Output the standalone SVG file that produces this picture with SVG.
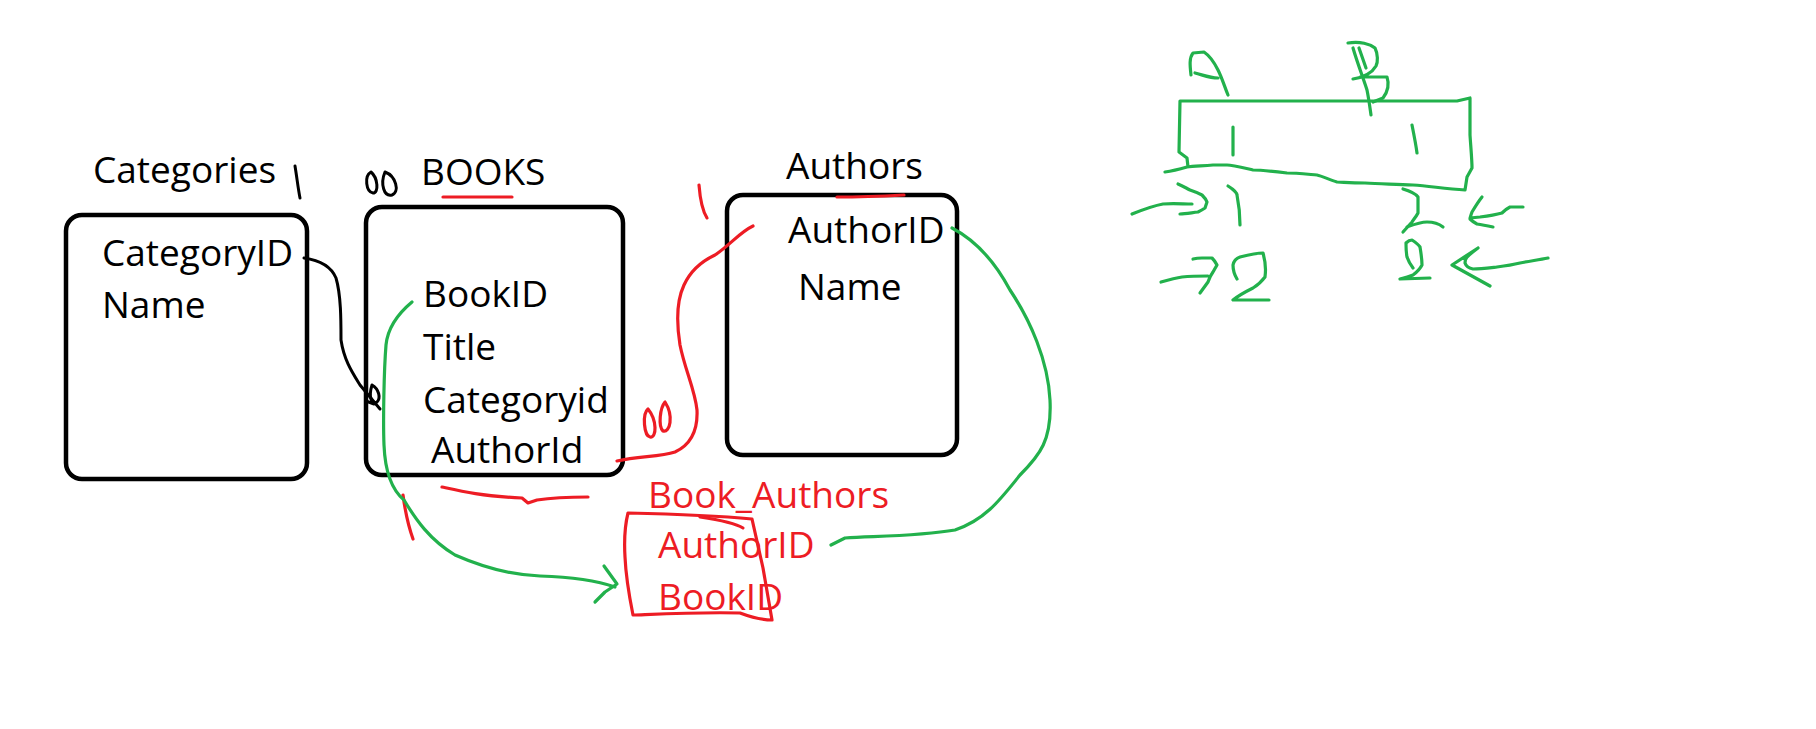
<svg xmlns="http://www.w3.org/2000/svg" width="1816" height="729" viewBox="0 0 1816 729">
<style>
.t{font-family:"Open Sans","Liberation Sans",sans-serif;font-size:37px;fill:#000}
.r{fill:#ED1C24}
.box{fill:none;stroke:#000;stroke-width:4.5}
.bk{fill:none;stroke:#000;stroke-width:3;stroke-linecap:round;stroke-linejoin:round}
.rd{fill:none;stroke:#ED1C24;stroke-width:3.2;stroke-linecap:round;stroke-linejoin:round}
.gr{fill:none;stroke:#22B14C;stroke-width:3.2;stroke-linecap:round;stroke-linejoin:round}
</style>
<rect width="1816" height="729" fill="#fff"/>
<g id="categories">
<rect class="box" x="66" y="215" width="241" height="264" rx="16"/>
<text class="t" x="93" y="183">Categories</text>
<text class="t" x="102" y="266">CategoryID</text>
<text class="t" x="102" y="318">Name</text>
<path class="bk" d="M295,166 C297,178 298,188 300,198"/>
</g>
<g id="books">
<rect class="box" x="366" y="207" width="257" height="268" rx="16"/>
<text class="t" x="421" y="185">BOOKS</text>
<path class="rd" d="M443,197 L512,197"/>
<path class="bk" d="M371,172 C364,176 366,192 373,193 C379,193 378,178 371,172 Z M385,172 C396,176 400,192 392,195 C384,197 380,184 385,172 Z"/>
<text class="t" x="423" y="307">BookID</text>
<text class="t" x="423" y="360">Title</text>
<text class="t" x="423" y="413">Categoryid</text>
<text class="t" x="431" y="463">AuthorId</text>
<path class="rd" d="M442,487 C460,491 480,496 522,498 L528,503 L537,500 C550,498 570,497 588,497"/>
<path class="rd" d="M403,495 C405,510 408,525 413,539"/>
</g>
<g id="authors">
<rect class="box" x="727" y="195" width="230" height="260" rx="16"/>
<text class="t" x="786" y="179">Authors</text>
<path class="rd" d="M837,197 C860,197 885,196 904,195"/>
<text class="t" x="788" y="243">AuthorID</text>
<text class="t" x="798" y="300">Name</text>
<path class="rd" d="M699,185 C700,198 702,210 707,218"/>
<path class="rd" d="M648,409 C642,414 644,436 650,437 C657,438 657,420 648,409 Z M665,402 C660,408 658,426 663,431 C670,433 674,416 665,402 Z"/>
</g>
<g id="book_authors">
<text class="t r" x="648" y="508">Book_Authors</text>
<text class="t r" x="658" y="558">AuthorID</text>
<text class="t r" x="658" y="610">BookID</text>
<path class="rd" d="M628,513 C670,514 720,516 752,519 L763,568 L772,620 C760,620 748,616 740,613 C700,612 660,614 633,615 C630,600 626,580 625,557 C624,540 625,525 628,513 Z"/>
<path class="rd" d="M700,517 C720,520 735,523 743,528"/>
</g>
<g id="connectors">
<path class="bk" d="M304,258 C318,260 331,266 336,278 C341,295 341,320 341,340 C344,360 352,372 360,385 L380,409"/>
<path class="bk" d="M372,385 C379,389 381,398 377,402 C372,405 368,398 372,385 Z M366,401 L374,404"/>
<path class="gr" d="M412,302 C400,312 388,325 386,345 C384,370 383,420 384,445 C385,470 392,490 404,500 C416,520 430,540 455,555 C480,566 510,575 540,576 C570,577 595,580 615,587"/>
<path class="gr" d="M604,566 L617,584 L605,592 L595,602"/>
<path class="rd" d="M617,461 C640,456 660,457 675,452 C690,445 698,432 697,410 C695,390 685,370 680,345 C676,320 677,300 684,285 C690,272 700,262 715,255 C730,245 740,232 753,226"/>
<path class="gr" d="M952,228 C975,240 995,262 1010,290 C1030,320 1048,360 1050,400 C1052,440 1040,455 1020,475 C1000,500 985,520 955,530 C920,536 880,536 845,538 L831,545"/>
</g>
<g id="ab-sketch">
<path class="gr" d="M1228,95 C1224,85 1222,78 1218,70 C1214,62 1210,56 1204,52 L1193,53 C1189,58 1190,66 1191,75 M1195,73 C1203,75 1210,78 1218,78"/>
<path class="gr" d="M1353,48 C1358,65 1364,80 1367,90 C1369,100 1370,108 1371,115 M1359,48 L1366,68 M1348,43 C1360,41 1370,44 1375,48 C1378,54 1378,62 1376,66 C1372,73 1365,77 1353,79 M1360,77 L1387,77 C1389,83 1389,90 1383,98 L1373,102"/>
<path class="gr" d="M1180,101 L1457,101 L1470,98 L1470,135 C1471,150 1472,160 1472,168 L1467,177 L1465,190 C1445,189 1430,186 1413,185 C1395,184 1380,184 1365,183 C1350,183 1342,182 1337,182 C1330,180 1322,176 1317,175 C1305,174 1295,173 1287,173 C1270,171 1260,170 1253,170 C1240,167 1232,165 1227,165 C1220,165 1215,165 1213,165 C1200,166 1193,166 1187,167 C1180,169 1172,171 1165,172 M1180,101 L1179,152 L1187,158 L1188,167"/>
<path class="gr" d="M1233,127 L1233,155 M1412,125 C1414,135 1416,145 1417,153"/>
<path class="gr" d="M1228,186 C1233,189 1237,193 1237,195 C1239,205 1240,215 1240,225"/>
<path class="gr" d="M1403,189 C1410,191 1415,193 1418,197 L1418,213 C1416,217 1413,220 1412,222 L1403,232 M1407,227 C1415,224 1420,222 1427,222 C1433,222 1438,223 1443,227"/>
<path class="gr" d="M1132,214 C1142,210 1152,206 1163,204 C1173,203 1183,204 1192,204 M1178,184 C1183,186 1186,188 1190,190 C1196,192 1200,194 1202,195 C1206,199 1207,202 1207,202 C1206,205 1205,208 1205,208 C1202,210 1200,211 1198,212 C1190,213 1185,214 1180,214"/>
<path class="gr" d="M1161,282 C1168,280 1175,278 1182,277 C1192,276 1200,276 1208,276 M1193,259 C1197,258 1200,258 1202,258 L1212,258 C1215,261 1216,263 1217,265 L1213,272 C1210,276 1209,279 1208,282 L1200,293"/>
<path class="gr" d="M1237,279 C1234,274 1233,270 1233,265 C1234,260 1237,258 1240,257 C1248,255 1256,253 1263,253 C1265,260 1266,270 1265,277 C1262,281 1258,285 1253,288 C1245,292 1238,296 1233,300 L1269,300"/>
<path class="gr" d="M1413,268 C1410,264 1408,260 1407,257 C1406,252 1406,247 1406,243 C1408,241 1410,240 1412,240 C1415,242 1418,244 1420,247 C1421,253 1422,260 1422,265 C1420,269 1417,272 1413,275 C1408,277 1404,278 1400,279 L1430,278"/>
<path class="gr" d="M1523,207 C1518,207 1514,207 1510,207 C1506,209 1504,211 1502,213 C1495,215 1488,216 1480,217 L1470,218 M1482,197 C1478,202 1475,207 1472,212 C1471,215 1470,217 1470,219 C1472,221 1475,223 1477,224 C1483,225 1488,226 1493,227"/>
<path class="gr" d="M1548,258 C1538,260 1530,261 1520,263 C1512,265 1505,266 1497,267 C1488,268 1480,269 1473,269 C1468,268 1466,266 1465,263 C1465,260 1466,258 1467,257 C1470,254 1474,251 1478,248 M1478,248 L1452,265 L1490,286"/>
</g>
</svg>
